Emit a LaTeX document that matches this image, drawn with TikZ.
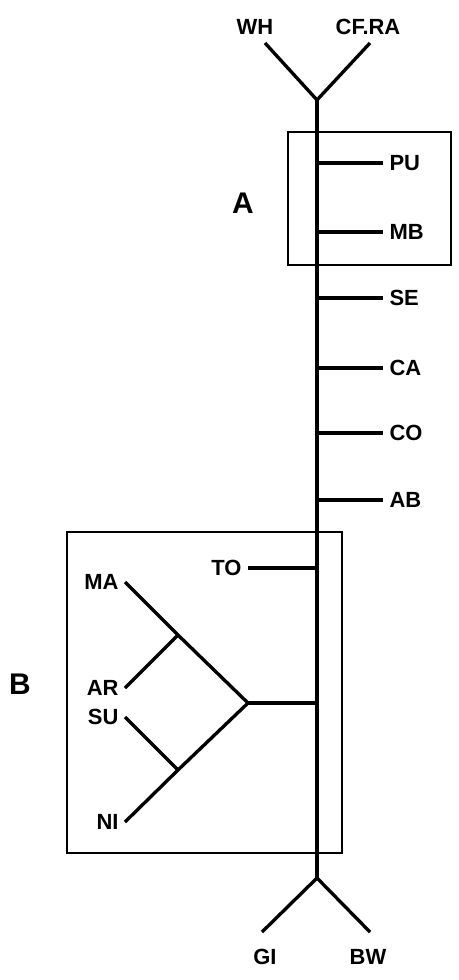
\documentclass[tikz,border=0pt]{standalone}
\usepackage{fontspec}
\setmainfont{Liberation Sans}
\usepackage{tikz}

\begin{document}
\begin{tikzpicture}[
    x=0.02cm, y=-0.02cm,
    taxon/.style={font=\bfseries\fontsize{12.5}{14}\selectfont, inner sep=3.5pt},
    group/.style={font=\bfseries\fontsize{17}{20}\selectfont, inner sep=1pt},
    branch/.style={line width=1.9pt},
    frame/.style={line width=1pt}
]
    \useasboundingbox (0,0) rectangle (458,980);

    % stem with the forks at both ends
    \coordinate (top) at (317,100);
    \coordinate (bot) at (317,878);
    \coordinate (whend) at (265,43);
    \coordinate (cfraend) at (370,43);
    \coordinate (giend) at (262,932);
    \coordinate (bwend) at (370,932);
    \node[taxon] (wh) at (255,27) {WH};
    \node[taxon] (cfra) at (368,27) {CF.RA};
    \node[taxon] (gi) at (265,957) {GI};
    \node[taxon] (bw) at (368,957) {BW};
    \draw[branch] (whend) -- (top) -- (cfraend);
    \draw[branch] (giend) -- (bot) -- (bwend);
    \draw[branch] (top) -- (bot);

    % right side branches
    \foreach \n/\y in {PU/163, MB/232, SE/298, CA/368, CO/433, AB/500} {
        \node[taxon, anchor=west] (\n) at (383,\y) {\n};
        \draw[branch] (top |- \n) -- (\n.west);
    }

    % group B tree
    \node[taxon, anchor=east] (TO) at (248,568) {TO};
    \node[taxon, anchor=east] (MA) at (125,582) {MA};
    \node[taxon, anchor=east] (AR) at (125,688) {AR};
    \node[taxon, anchor=east] (SU) at (125,717) {SU};
    \node[taxon, anchor=east] (NI) at (125,822) {NI};
    \coordinate (root) at (248,703);
    \coordinate (maar) at (178,635);
    \coordinate (suni) at (178,770);
    \draw[branch] (TO.east) -- (TO -| top);
    \draw[branch] (MA.east) -- (maar) -- (root) -- (suni) -- (NI.east);
    \draw[branch] (AR.east) -- (maar);
    \draw[branch] (SU.east) -- (suni);
    \draw[branch] (root) -- (root -| top);

    % boxes
    \draw[frame] (288,132) rectangle (451,265);
    \draw[frame] (67,532) rectangle (342,853);
    \node[group] (A) at (243,203) {A};
    \node[group] (B) at (20,684) {B};
\end{tikzpicture}
\end{document}
